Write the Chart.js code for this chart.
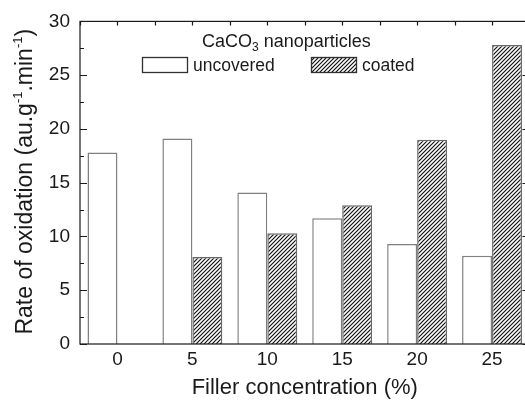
<!DOCTYPE html>
<html>
<head>
<meta charset="utf-8">
<script src="https://cdn.jsdelivr.net/npm/chart.js@4"></script>
<style>
  html, body { margin: 0; padding: 0; background: #fff; overflow: hidden; }
  #wrap { width: 532px; height: 402px; }
</style>
</head>
<body>
<div id="wrap"><canvas id="chart" width="532" height="402"></canvas></div>
<script>
// filler concentration (%)
const concentrations = ['0', '5', '10', '15', '20', '25'];
// rate of oxidation, uncovered CaCO3 nanoparticles
const uncovered = [17.8, 19.1, 14.1, 11.7, 9.3, 8.2];
// rate of oxidation, coated CaCO3 nanoparticles (none at 0 %)
const coated = [null, 8.1, 10.3, 12.9, 19.0, 27.8];
const yTicks = [0, 5, 10, 15, 20, 25, 30];

const FONT = "'Liberation Sans', Arial, Helvetica, sans-serif";
const INK = '#1a1a1a';

/**
 * diagonal "///" hatch used for the coated bars
 */
function makeHatch() {
    const size = 4;
    const c = document.createElement('canvas');
    c.width = size;
    c.height = size;
    const g = c.getContext('2d');
    g.fillStyle = '#fff';
    g.fillRect(0, 0, size, size);
    g.strokeStyle = '#111';
    g.lineWidth = 1.2;
    g.beginPath();
    g.moveTo(-1, size + 1);
    g.lineTo(size + 1, -1);
    g.moveTo(-1, 1);
    g.lineTo(1, -1);
    g.moveTo(size - 1, size + 1);
    g.lineTo(size + 1, size - 1);
    g.stroke();
    return g.createPattern(c, 'repeat');
}

/**
 * frame round the plot and inward pointing tick marks
 */
const framePlugin = {
    id: 'frame',
    afterDraw(chart) {
        const ctx = chart.ctx;
        const area = chart.chartArea;
        const y = chart.scales.y;
        const x = chart.scales.x;
        ctx.save();
        ctx.strokeStyle = INK;
        ctx.lineWidth = 1.2;
        ctx.strokeRect(area.left, area.top, area.right - area.left, area.bottom - area.top);
        ctx.beginPath();
        for (let v = 0; v <= 30; v += 2.5) {
            const py = Math.round(y.getPixelForValue(v)) + 0.5;
            const len = v % 5 === 0 ? 7 : 4;
            ctx.moveTo(area.left, py);
            ctx.lineTo(area.left + len, py);
            ctx.moveTo(area.right, py);
            ctx.lineTo(area.right - len, py);
        }
        // top axis: marks at category centres and boundaries
        const half = (x.getPixelForValue(1) - x.getPixelForValue(0)) / 2;
        for (let i = 0; i < concentrations.length; i++) {
            const cx = x.getPixelForValue(i);
            [cx - half, cx].forEach(px => {
                ctx.moveTo(Math.round(px) + 0.5, area.top);
                ctx.lineTo(Math.round(px) + 0.5, area.top + 4);
            });
        }
        ctx.stroke();
        ctx.restore();
    }
};

/**
 * y axis title with real superscripts, drawn rotated beside the axis
 */
const yTitlePlugin = {
    id: 'yTitle',
    afterDraw(chart) {
        const ctx = chart.ctx;
        const area = chart.chartArea;
        const parts = [
            {t: 'Rate of oxidation (au.g', size: 23, rise: 0},
            {t: '-1', size: 13, rise: 10},
            {t: '.min', size: 23, rise: 0},
            {t: '-1', size: 13, rise: 10},
            {t: ')', size: 23, rise: 0}
        ];
        ctx.save();
        let total = 0;
        parts.forEach(p => {
            ctx.font = p.size + 'px ' + FONT;
            p.w = ctx.measureText(p.t).width;
            total += p.w;
        });
        ctx.translate(32, (area.top + area.bottom) / 2 - 1);
        ctx.rotate(-Math.PI / 2);
        ctx.fillStyle = INK;
        ctx.textBaseline = 'alphabetic';
        ctx.textAlign = 'left';
        let px = -total / 2;
        parts.forEach(p => {
            ctx.font = p.size + 'px ' + FONT;
            ctx.fillText(p.t, px, -p.rise);
            px += p.w;
        });
        ctx.restore();
    }
};

/**
 * legend placed inside the plot, with the subscript in CaCO3
 */
const legendPlugin = {
    id: 'innerLegend',
    afterDraw(chart) {
        const ctx = chart.ctx;
        const sets = chart.data.datasets;
        ctx.save();
        ctx.fillStyle = INK;
        ctx.textBaseline = 'alphabetic';
        ctx.textAlign = 'left';
        // title
        let tx = 202;
        const ty = 47;
        ctx.font = '18px ' + FONT;
        ctx.fillText('CaCO', tx, ty);
        tx += ctx.measureText('CaCO').width;
        ctx.font = '12px ' + FONT;
        ctx.fillText('3', tx, ty + 4);
        tx += ctx.measureText('3').width;
        ctx.font = '18px ' + FONT;
        ctx.fillText(' nanoparticles', tx, ty);
        // items
        const items = [
            {set: sets[0], box: 142, text: 193},
            {set: sets[1], box: 311, text: 362}
        ];
        items.forEach(it => {
            ctx.fillStyle = it.set.backgroundColor;
            ctx.fillRect(it.box, 57, 45, 15);
            ctx.strokeStyle = it.set.legendBorder;
            ctx.lineWidth = 1.3;
            ctx.strokeRect(it.box + 0.5, 57.5, 45, 15);
            ctx.fillStyle = INK;
            ctx.font = '17.5px ' + FONT;
            ctx.fillText(it.set.label, it.text, 71);
        });
        ctx.restore();
    }
};

new Chart(document.getElementById('chart'), {
    type: 'bar',
    data: {
        labels: concentrations,
        datasets: [
            {
                label: 'uncovered',
                data: uncovered,
                backgroundColor: '#ffffff',
                borderColor: '#808080',
                legendBorder: '#303030',
                borderWidth: 1.5,
                categoryPercentage: 0.8,
                barPercentage: 1.0
            },
            {
                label: 'coated',
                data: coated,
                backgroundColor: makeHatch(),
                borderColor: '#6a6a6a',
                legendBorder: '#303030',
                borderWidth: 1.5,
                categoryPercentage: 0.8,
                barPercentage: 1.0
            }
        ]
    },
    options: {
        responsive: false,
        animation: false,
        layout: {
            padding: {top: 17, right: 2.5, left: 0, bottom: 0}
        },
        plugins: {
            legend: {display: false},
            tooltip: {enabled: false}
        },
        scales: {
            x: {
                offset: true,
                grid: {display: false, drawTicks: false},
                border: {display: false},
                ticks: {
                    color: INK,
                    padding: 4,
                    maxRotation: 0,
                    font: {family: FONT, size: 19}
                },
                title: {
                    display: true,
                    text: 'Filler concentration (%)',
                    color: INK,
                    padding: {top: 0, bottom: 1},
                    font: {family: FONT, size: 22}
                },
                afterFit(scale) {
                    scale.height = 58;
                }
            },
            y: {
                min: 0,
                max: 30,
                afterBuildTicks(scale) {
                    scale.ticks = yTicks.map(v => ({value: v}));
                },
                grid: {display: false, drawTicks: false},
                border: {display: false},
                ticks: {
                    color: INK,
                    padding: 10,
                    font: {family: FONT, size: 19}
                },
                afterFit(scale) {
                    scale.width = 80;
                }
            }
        }
    },
    plugins: [framePlugin, yTitlePlugin, legendPlugin]
});
</script>
</body>
</html>
